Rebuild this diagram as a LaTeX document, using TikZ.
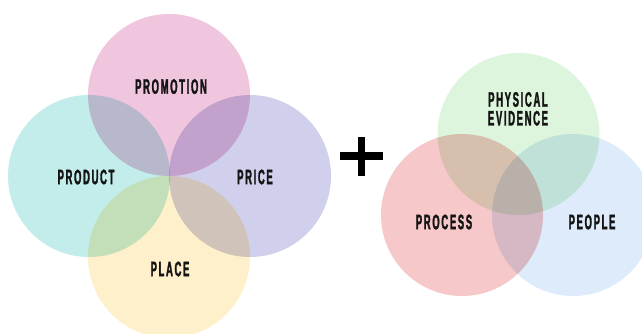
\documentclass[tikz,border=0pt]{standalone}
\usepackage{fontspec}
\setmainfont{Liberation Sans}
\newfontfamily\capfont{Liberation Sans}[FakeStretch=0.45, LetterSpace=8, FakeBold=1.5]
\usepackage{xcolor}
\usetikzlibrary{positioning}

% circle fills
\definecolor{promocol}{HTML}{F0C6DE}
\definecolor{productcol}{HTML}{C3EDEA}
\definecolor{pricecol}{HTML}{D0D0EC}
\definecolor{placecol}{HTML}{FEF0CA}
\definecolor{physicalcol}{HTML}{DDF5DC}
\definecolor{processcol}{HTML}{F7C8C9}
\definecolor{peoplecol}{HTML}{DDEBFB}

\tikzset{
    caption/.style={font=\capfont\bfseries\fontsize{21}{18}\selectfont, text=black!92, align=center, inner sep=0pt}
}

\begin{document}
\begin{tikzpicture}[x=1pt, y=-1pt]

    \useasboundingbox (0,0) rectangle (642,334);

    % The classic four P's (overlaps darken by multiplying)
    \begin{scope}[blend group=multiply]
        \foreach \col/\cx/\cy in {promocol/169/95, productcol/89/176, pricecol/250/176, placecol/169/257} {
            \fill[\col] (\cx,\cy) circle (81pt);
        }
    \end{scope}

    \node[caption] (promotion) at (171,86.5) {PROMOTION};
    \node[caption] (product) at (86,177) {PRODUCT};
    \node[caption] (price) at (255,177) {PRICE};
    \node[caption] (place) at (170,269) {PLACE};

    % Plus sign between the groups
    \draw[line width=7.5pt] (340,156) -- (383,156);
    \draw[line width=7.5pt] (361.5,137) -- (361.5,176);

    % The three extra P's
    \begin{scope}[blend group=multiply]
        \foreach \col/\cx/\cy in {physicalcol/518.5/134, processcol/462/215, peoplecol/573/215} {
            \fill[\col] (\cx,\cy) circle (81pt);
        }
    \end{scope}

    \node[caption] (physical) at (518,99.5) {PHYSICAL};
    \node[caption, below=3.5pt of physical] (evidence) {EVIDENCE};
    \node[caption] (process) at (444,222) {PROCESS};
    \node[caption] (people) at (592,222) {PEOPLE};

\end{tikzpicture}
\end{document}
